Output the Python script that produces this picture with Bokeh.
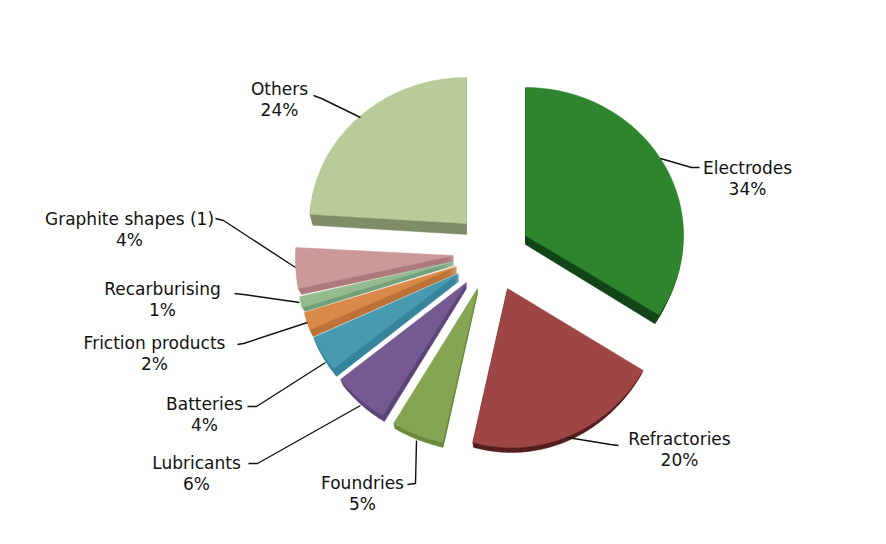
import numpy as np
from bokeh.plotting import figure
from bokeh.models import Range1d
from bokeh.core.properties import value
from bokeh.embed import file_html
from bokeh.resources import INLINE

# --- data -------------------------------------------------------------
categories = ["Electrodes", "Refractories", "Foundries", "Lubricants", "Batteries",
              "Friction products", "Recarburising", "Graphite shapes (1)", "Others"]
shares = [34, 20, 5, 6, 4, 2, 1, 4, 24]

# --- styles -----------------------------------------------------------
top_colors = ["#2e852e", "#9e4545", "#85a552", "#745a90", "#479aaf",
              "#d98a48", "#94bb90", "#cd9898", "#b9cb98"]
side_colors = ["#14461a", "#551f1f", "#6b8a3f", "#5d4578", "#37859c",
               "#bd7238", "#72a07a", "#ae7a7c", "#7f8d68"]

# --- layout (page pixels): exploded 3D pie projection per slice ---------
apex_x = [525, 507, 477, 466, 458, 456, 453, 453, 466]
apex_y = [235, 288, 288, 282, 273, 266, 261, 255, 223]
off_x = [0, 4, 7.5, -1.5, 8.5, -3, 0.5, -1, 0]
off_y = [0, -7, 6.7, 14.3, 12, 10.4, 2, 2.3, 0]
rad_x = [158, 156, 170.7, 154, 165, 154, 157, 157, 157]
rad_y = [148, 166, 152, 140.6, 141, 143, 177, 164, 146]
depth = [9, 5, 5, 6, 8, 7, 4, 6, 11]
shrink = [0.97, 0.98, 0.985, 0.977, 0.975, 0.98, 0.98, 0.98, 0.98]
draw_order = [8, 7, 6, 5, 4, 3, 2, 0, 1]

label_x = [747, 679, 362, 196, 204, 154, 162, 129, 279]
label_y = [167, 438, 482, 462, 403, 342, 288, 218, 88]
line_gap = 21
leader_x = [[660, 691, 699], [567, 610, 618], [416, 415, 407], [360, 257, 248], [325, 256, 247],
            [307, 243, 237], [299, 243, 234], [295, 223, 215], [360, 321, 313]]
leader_y = [[158, 167, 167], [437, 444, 445], [440, 483, 484], [405, 463, 463], [362, 406, 406],
            [322, 343, 344], [302, 294, 293], [267, 220, 218], [117, 98, 95]]

FONT = "DejaVu Sans"
SIZE = "17px"

p = figure(width=870, height=528, output_backend="svg", toolbar_location=None,
           x_range=Range1d(0, 870), y_range=Range1d(528, 0), min_border=0)
p.axis.visible = False
p.grid.visible = False
p.outline_line_color = None
p.background_fill_color = "white"

edges = np.cumsum([0] + shares) / sum(shares) * 2 * np.pi

for i in draw_order:
    th = np.linspace(edges[i], edges[i + 1], max(3, int(shares[i] * 4)))
    ax, ay = apex_x[i], apex_y[i]
    rel_x = np.concatenate([[0], off_x[i] + rad_x[i] * np.sin(th)])
    rel_y = np.concatenate([[0], off_y[i] - rad_y[i] * np.cos(th)])
    # extruded side: copies of the surface sliding down to the bottom face
    ts = np.linspace(1, 0, depth[i] + 1)[:-1]
    xs = [list(ax + rel_x * (1 - t * (1 - shrink[i]))) for t in ts]
    ys = [list(ay + rel_y + t * depth[i]) for t in ts]
    p.patches(xs, ys, fill_color=side_colors[i], line_color=side_colors[i], line_width=0.5)
    p.patch(ax + rel_x, ay + rel_y, fill_color=top_colors[i], line_color=top_colors[i], line_width=0.5)

p.multi_line(leader_x, leader_y, line_color="#111111", line_width=1.4)

p.text(label_x, label_y, text=categories, text_align="center", text_baseline="middle",
       text_font=value(FONT), text_font_size=value(SIZE), text_color="#111111")
p.text(label_x, [y + line_gap for y in label_y], text=[f"{s}%" for s in shares],
       text_align="center", text_baseline="middle",
       text_font=value(FONT), text_font_size=value(SIZE), text_color="#111111")

open("out.html", "w").write(file_html(p, INLINE))
